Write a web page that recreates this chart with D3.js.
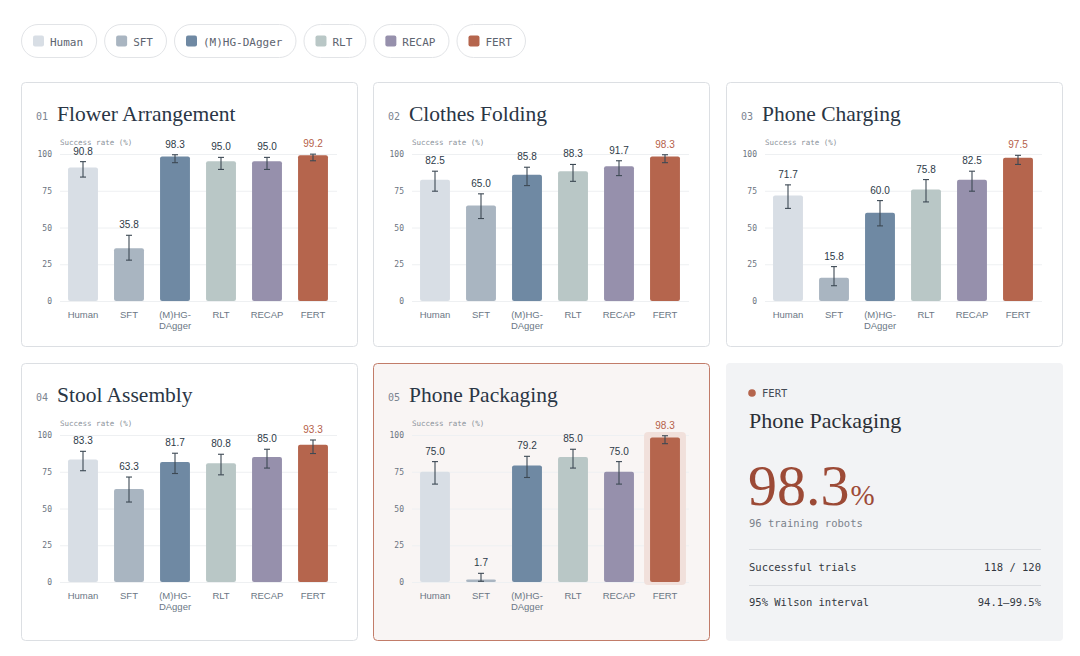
<!DOCTYPE html>
<html>
<head>
<meta charset="utf-8">
<script src="https://cdn.jsdelivr.net/npm/d3@7"></script>
<style>
  html, body { margin: 0; padding: 0; background: #ffffff; }
  svg { display: block; }
</style>
</head>
<body>
<svg id="chart" width="1080" height="656"></svg>
<script>
// ---------------- DATA ----------------
const categories = ["Human", "SFT", "(M)HG-DAgger", "RLT", "RECAP", "FERT"];
const categoryLines = [["Human"], ["SFT"], ["(M)HG-", "DAgger"], ["RLT"], ["RECAP"], ["FERT"]];
const taskNames = ["Flower Arrangement", "Clothes Folding", "Phone Charging", "Stool Assembly", "Phone Packaging"];
const taskNumbers = ["01", "02", "03", "04", "05"];
const yTicks = [0, 25, 50, 75, 100];

const flowerValues = [90.8, 35.8, 98.3, 95.0, 95.0, 99.2];
const flowerLow    = [84.3, 27.8, 94.1, 89.5, 89.5, 95.4];
const flowerHigh   = [94.8, 44.7, 99.5, 97.7, 97.7, 99.9];

const clothesValues = [82.5, 65.0, 85.8, 88.3, 91.7, 98.3];
const clothesLow    = [74.7, 56.1, 78.5, 81.4, 85.3, 94.1];
const clothesHigh   = [88.3, 72.9, 91.0, 92.9, 95.4, 99.5];

const chargingValues = [71.7, 15.8, 60.0, 75.8, 82.5, 97.5];
const chargingLow    = [63.0, 10.4, 51.1, 67.4, 74.7, 92.9];
const chargingHigh   = [79.0, 23.4, 68.3, 82.6, 88.3, 99.1];

const stoolValues = [83.3, 63.3, 81.7, 80.8, 85.0, 93.3];
const stoolLow    = [75.7, 54.4, 73.8, 72.9, 77.5, 87.4];
const stoolHigh   = [88.9, 71.4, 87.6, 86.9, 90.3, 96.6];

const packagingValues = [75.0, 1.7, 79.2, 85.0, 75.0, 98.3];
const packagingLow    = [66.6, 0.5, 71.1, 77.5, 66.6, 94.1];
const packagingHigh   = [81.9, 5.9, 85.5, 90.3, 81.9, 99.5];

const highlightTask = "Phone Packaging";
const highlightMethod = "FERT";
const highlightValue = "98.3";
const highlightRobots = "96 training robots";
const highlightTrials = "118 / 120";
const highlightInterval = "94.1–99.5%";

// ---------------- STYLE ----------------
const colors = {
  "Human": "#d8dee5",
  "SFT": "#a9b5c1",
  "(M)HG-DAgger": "#6f89a3",
  "RLT": "#b9c7c6",
  "RECAP": "#9690ac",
  "FERT": "#b5654d"
};
const MONO = "'DejaVu Sans Mono', monospace";
const SERIF = "'Liberation Serif', serif";
const SANS = "'Liberation Sans', Arial, sans-serif";

const tasks = [
  { name: taskNames[0], num: taskNumbers[0], v: flowerValues, lo: flowerLow, hi: flowerHigh },
  { name: taskNames[1], num: taskNumbers[1], v: clothesValues, lo: clothesLow, hi: clothesHigh },
  { name: taskNames[2], num: taskNumbers[2], v: chargingValues, lo: chargingLow, hi: chargingHigh },
  { name: taskNames[3], num: taskNumbers[3], v: stoolValues, lo: stoolLow, hi: stoolHigh },
  { name: taskNames[4], num: taskNumbers[4], v: packagingValues, lo: packagingLow, hi: packagingHigh }
];

const svg = d3.select("#chart");

// ---------------- LEGEND ----------------
const legend = svg.append("g").attr("transform", "translate(21,24)");
let lx = 0;
categories.forEach(c => {
  const g = legend.append("g").attr("transform", `translate(${lx},0)`);
  const t = g.append("text")
    .attr("x", 29).attr("y", 21.5)
    .attr("font-family", MONO).attr("font-size", 11)
    .attr("fill", "#5d6470").text(c);
  const tw = t.node().getComputedTextLength();
  const w = 29 + tw + 13;
  g.insert("rect", "text")
    .attr("x", 0.5).attr("y", 0.5).attr("width", w).attr("height", 33)
    .attr("rx", 16.5).attr("fill", "#fff").attr("stroke", "#e2e4e7");
  g.append("rect")
    .attr("x", 12).attr("y", 11.5).attr("width", 11).attr("height", 11)
    .attr("rx", 2).attr("fill", colors[c]);
  lx += w + 8;
});

// ---------------- CARDS ----------------
const cardX = [21, 373, 726];
const cardY = [82, 363];
const cardW = 337;
const cardH = [265, 278];

const x = d3.scaleBand().domain(categories).range([39, 315]).paddingInner(0.35).paddingOuter(0.175);
const y = d3.scaleLinear().domain([0, 100]).range([219, 72]);

tasks.forEach((task, i) => {
  const col = i % 3, row = Math.floor(i / 3);
  const isHi = task.name === highlightTask;
  const g = svg.append("g").attr("transform", `translate(${cardX[col]},${cardY[row]})`);
  g.append("rect")
    .attr("x", 0.5).attr("y", 0.5).attr("width", cardW - 1).attr("height", cardH[row] - 1)
    .attr("rx", 4)
    .attr("fill", isHi ? "#f9f5f4" : "#ffffff")
    .attr("stroke", isHi ? "#c27c69" : "#dcdfe3");

  g.append("text").attr("x", 15).attr("y", 38)
    .attr("font-family", MONO).attr("font-size", 10).attr("fill", "#7b8490").text(task.num);
  g.append("text").attr("x", 36).attr("y", 39)
    .attr("font-family", SERIF).attr("font-size", 21.5).attr("fill", "#2a3645").text(task.name);
  g.append("text").attr("x", 39).attr("y", 62.5)
    .attr("font-family", MONO).attr("font-size", 7.5).attr("fill", "#8b929b").text("Success rate (%)");

  // gridlines
  g.append("g").selectAll("line").data(yTicks).join("line")
    .attr("x1", 39).attr("x2", 316)
    .attr("y1", d => y(d) + 0.5).attr("y2", d => y(d) + 0.5)
    .attr("stroke", "#eef0f2");

  // y axis
  const ya = g.append("g").attr("transform", "translate(33,0)")
    .call(d3.axisLeft(y).tickValues(yTicks).tickSize(0).tickPadding(2));
  ya.select(".domain").remove();
  ya.selectAll("text").attr("font-family", MONO).attr("font-size", 8).attr("fill", "#6b7380");

  // x axis labels
  const xa = g.append("g");
  categories.forEach((c, k) => {
    const t = xa.append("text")
      .attr("x", x(c) + x.bandwidth() / 2).attr("y", 236)
      .attr("text-anchor", "middle")
      .attr("font-family", SANS).attr("font-size", 9.5).attr("fill", "#6b7785");
    categoryLines[k].forEach((ln, j) => {
      t.append("tspan").attr("x", x(c) + x.bandwidth() / 2).attr("dy", j === 0 ? 0 : 10.5).text(ln);
    });
  });

  // highlight behind FERT bar
  if (isHi) {
    g.append("rect")
      .attr("x", x(highlightMethod) - 6).attr("y", y(100) - 3)
      .attr("width", x.bandwidth() + 12).attr("height", y(0) - y(100) + 6)
      .attr("rx", 4).attr("fill", "#f1e0db");
  }

  const data = categories.map((c, k) => ({ c, v: task.v[k], lo: task.lo[k], hi: task.hi[k] }));

  g.append("g").selectAll("rect").data(data).join("rect")
    .attr("x", d => x(d.c)).attr("y", d => y(d.v))
    .attr("width", x.bandwidth()).attr("height", d => y(0) - y(d.v))
    .attr("rx", 2).attr("fill", d => colors[d.c]);

  const eb = g.append("g").attr("stroke", "#3d4954").attr("stroke-width", 1.1);
  data.forEach(d => {
    const cx = x(d.c) + x.bandwidth() / 2;
    eb.append("line").attr("x1", cx).attr("x2", cx).attr("y1", y(d.lo)).attr("y2", y(d.hi));
    eb.append("line").attr("x1", cx - 3).attr("x2", cx + 3).attr("y1", y(d.lo)).attr("y2", y(d.lo));
    eb.append("line").attr("x1", cx - 3).attr("x2", cx + 3).attr("y1", y(d.hi)).attr("y2", y(d.hi));
  });

  g.append("g").selectAll("text").data(data).join("text")
    .attr("x", d => x(d.c) + x.bandwidth() / 2)
    .attr("y", d => y(Math.max(d.hi, d.v)) - 7)
    .attr("text-anchor", "middle")
    .attr("font-family", SANS).attr("font-size", 10)
    .attr("fill", d => d.c === "FERT" ? "#b5604a" : "#2d3a48")
    .text(d => d.v.toFixed(1));
});

// ---------------- SUMMARY CARD ----------------
const s = svg.append("g").attr("transform", `translate(${cardX[2]},${cardY[1]})`);
s.append("rect").attr("width", cardW).attr("height", cardH[1]).attr("rx", 4).attr("fill", "#f2f3f5");
s.append("circle").attr("cx", 26).attr("cy", 30).attr("r", 3.8).attr("fill", colors.FERT);
s.append("text").attr("x", 36).attr("y", 34)
  .attr("font-family", MONO).attr("font-size", 10.5).attr("fill", "#444b55").text(highlightMethod);
s.append("text").attr("x", 23).attr("y", 65)
  .attr("font-family", SERIF).attr("font-size", 22).attr("fill", "#2b2f36").text(highlightTask);
const big = s.append("text").attr("x", 22).attr("y", 142)
  .attr("font-family", SERIF).attr("fill", "#9c4a36");
big.append("tspan").attr("font-size", 58).text(highlightValue);
big.append("tspan").attr("font-size", 29).attr("dx", 1).text("%");
s.append("text").attr("x", 23).attr("y", 164)
  .attr("font-family", MONO).attr("font-size", 10.5).attr("fill", "#7a818b").text(highlightRobots);
s.append("line").attr("x1", 23).attr("x2", 315).attr("y1", 186.5).attr("y2", 186.5).attr("stroke", "#dcdee2");
s.append("text").attr("x", 23).attr("y", 208)
  .attr("font-family", MONO).attr("font-size", 10.5).attr("fill", "#33383f").text("Successful trials");
s.append("text").attr("x", 315).attr("y", 208).attr("text-anchor", "end")
  .attr("font-family", MONO).attr("font-size", 10.5).attr("fill", "#33383f").text(highlightTrials);
s.append("line").attr("x1", 23).attr("x2", 315).attr("y1", 222.5).attr("y2", 222.5).attr("stroke", "#dcdee2");
s.append("text").attr("x", 23).attr("y", 243)
  .attr("font-family", MONO).attr("font-size", 10.5).attr("fill", "#33383f").text("95% Wilson interval");
s.append("text").attr("x", 315).attr("y", 243).attr("text-anchor", "end")
  .attr("font-family", MONO).attr("font-size", 10.5).attr("fill", "#33383f").text(highlightInterval);
</script>
</body>
</html>
